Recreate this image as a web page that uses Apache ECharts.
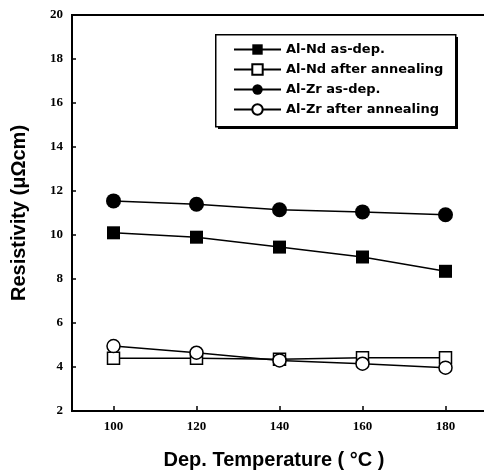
<!DOCTYPE html>
<html>
<head>
<meta charset="utf-8">
<script src="https://cdn.jsdelivr.net/npm/echarts@6/dist/echarts.min.js"></script>
<style>
  html, body { margin: 0; padding: 0; background: #fff; }
  #chart { width: 484px; height: 476px; }
</style>
</head>
<body>
<div id="chart"></div>
<script>
var temps = [100, 120, 140, 160, 180];
var xTicks = [100, 120, 140, 160, 180];

var ndAsDep = [10.1, 9.9, 9.45, 9.0, 8.35];
var ndAnneal = [4.4, 4.4, 4.35, 4.42, 4.42];
var zrAsDep = [11.55, 11.4, 11.15, 11.05, 10.92];
var zrAnneal = [4.95, 4.65, 4.3, 4.15, 3.97];

var names = ['Al-Nd as-dep.', 'Al-Nd after annealing', 'Al-Zr as-dep.', 'Al-Zr after annealing'];

function pairs(vals) {
    var out = [];
    for (var i = 0; i < temps.length; i++) {
        out.push([temps[i], vals[i]]);
    }
    return out;
}

function makeSeries(name, vals, symbol, size, filled) {
    return {
        name: name,
        type: 'line',
        data: pairs(vals),
        symbol: symbol,
        symbolSize: size,
        lineStyle: { color: '#000', width: 1.5 },
        itemStyle: {
            color: filled ? '#000' : '#fff',
            borderColor: '#000',
            borderWidth: filled ? 0 : 1.5
        },
        z: filled ? 3 : 2
    };
}

var chart = echarts.init(document.getElementById('chart'));
var serif = '"Liberation Serif", "Times New Roman", serif';
var sans = '"Liberation Sans", Arial, sans-serif';

// legend frame (box + heavy drop edge)
var box = { x: 215, y: 34, w: 240, h: 92 };

var option = {
    animation: false,
    backgroundColor: '#fff',
    grid: {
        left: 72,
        top: 15,
        width: 415,
        bottom: 65,
        outerBoundsMode: 'none',
        show: true,
        borderColor: '#000',
        borderWidth: 2,
        backgroundColor: 'transparent'
    },
    graphic: [
        { type: 'rect', left: box.x + 3, top: box.y + 3, z: 5,
          shape: { width: box.w, height: box.h }, style: { fill: '#000' } },
        { type: 'rect', left: box.x, top: box.y, z: 6,
          shape: { width: box.w, height: box.h }, style: { fill: '#fff', stroke: '#000', lineWidth: 1.5 } }
    ],
    legend: {
        data: names,
        orient: 'vertical',
        left: box.x + 18,
        top: box.y + 9,
        z: 10,
        itemWidth: 47,
        itemHeight: 13,
        itemGap: 7,
        padding: 0,
        textStyle: { fontFamily: '"DejaVu Sans", sans-serif', fontWeight: 'bold', fontSize: 13, color: '#000' }
    },
    xAxis: {
        type: 'value',
        min: 90,
        max: 190,
        name: 'Dep. Temperature ( \u00B0C )',
        nameLocation: 'middle',
        nameGap: 39,
        nameTextStyle: { fontFamily: sans, fontWeight: 'bold', fontSize: 20, color: '#000', padding: [0, 11, 0, 0] },
        axisLine: { lineStyle: { color: '#000', width: 2 } },
        axisTick: { inside: true, length: 5, customValues: xTicks, lineStyle: { color: '#000', width: 1.5 } },
        axisLabel: { customValues: xTicks, margin: 9, fontFamily: serif, fontWeight: 'bold', fontSize: 13, color: '#000' },
        splitLine: { show: false }
    },
    yAxis: {
        type: 'value',
        min: 2,
        max: 20,
        interval: 2,
        name: 'Resistivity (\u03BC\u03A9cm)',
        nameLocation: 'middle',
        nameRotate: 90,
        nameGap: 43,
        nameTextStyle: { fontFamily: sans, fontWeight: 'bold', fontSize: 20, color: '#000' },
        axisLine: { show: true, lineStyle: { color: '#000', width: 2 } },
        axisTick: { show: true, inside: true, length: 4, lineStyle: { color: '#000', width: 1.5 } },
        axisLabel: { margin: 9, fontFamily: serif, fontWeight: 'bold', fontSize: 13, color: '#000' },
        splitLine: { show: false }
    },
    series: [
        makeSeries(names[0], ndAsDep, 'rect', 13, true),
        makeSeries(names[1], ndAnneal, 'rect', 12, false),
        makeSeries(names[2], zrAsDep, 'circle', 15, true),
        makeSeries(names[3], zrAnneal, 'circle', 13, false)
    ]
};

chart.setOption(option);
</script>
</body>
</html>
